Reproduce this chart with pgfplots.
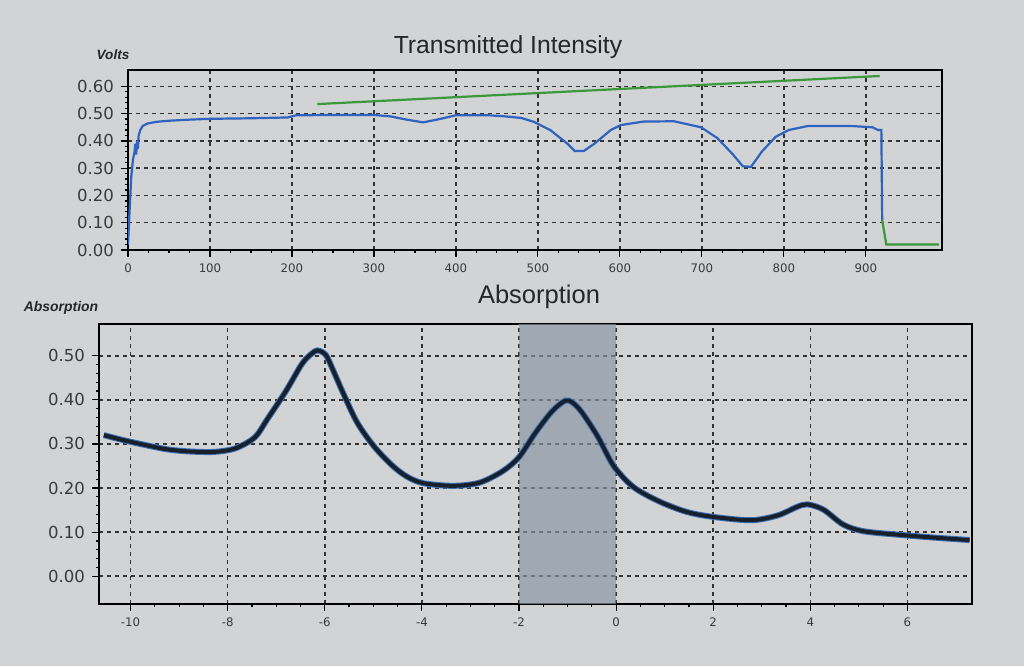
\documentclass[border=0pt]{standalone}
\usepackage{pgfplots}
\pgfplotsset{compat=1.18}
\usepackage{fontspec}
\setmainfont{Liberation Sans}
\newfontfamily\dejavu{DejaVu Sans}
\definecolor{bg}{HTML}{D1D3D5}
\definecolor{tblue}{HTML}{2E63C0}
\definecolor{tgreen}{HTML}{3A9A3A}
\definecolor{cblue}{HTML}{3B6FB6}
\definecolor{cdark}{HTML}{18202C}
\definecolor{shade}{HTML}{8A95A1}
\definecolor{lab}{HTML}{3A3A3A}
\pgfplotsset{
  scrstyle/.style={
    scale only axis,
    tick align=outside,
    xtick pos=left, ytick pos=left,
    major tick length=3.5bp, minor tick length=1.6bp,
    tick style={black, line width=0.6bp},
    axis line style={black, line width=1bp},
    grid=major,
    major grid style={black!80, line width=0.75bp, dash pattern=on 2.2bp off 1.8bp},
    /pgf/number format/assume math mode=true,
    yticklabel style={font=\dejavu\fontsize{8.3}{9}\selectfont, text=lab,
      /pgf/number format/.cd, fixed, fixed zerofill, precision=2},
    xticklabel style={font=\dejavu\fontsize{5.9}{7}\selectfont, text=lab},
    minor x tick num=3, minor y tick num=4,
  }
}
\begin{document}
\begin{tikzpicture}[x=1bp,y=1bp]
\fill[bg] (0,0) rectangle (512,333);
\useasboundingbox (0,0) rectangle (512,333);

% ---------- Transmitted Intensity ----------
\begin{axis}[scrstyle, at={(64bp,208bp)}, anchor=south west,
  width=407bp, height=90bp,
  xmin=0, xmax=993, ymin=0, ymax=0.66,
  xtick={0,100,200,300,400,500,600,700,800,900},
  ytick={0,0.1,0.2,0.3,0.4,0.5,0.6},
  xticklabel style={/pgf/number format/.cd, fixed, 1000 sep={}},
]
\addplot[tgreen, line width=1.1bp] coordinates {(231,0.535) (917,0.638)};
\addplot[tblue, line width=1.1bp] coordinates {
(0,0.02)(2,0.15)(4,0.27)(6,0.33)(8,0.36)(9,0.39)(10,0.35)(11,0.40)(12,0.37)(13,0.42)
(15,0.44)(18,0.455)(24,0.464)(35,0.47)(50,0.474)(75,0.478)(100,0.481)(150,0.483)
(195,0.486)(205,0.494)(250,0.495)(300,0.495)(320,0.49)(340,0.478)(360,0.468)(380,0.48)
(400,0.494)(440,0.494)(460,0.49)(480,0.484)(495,0.47)(515,0.44)(536,0.39)(545,0.363)
(556,0.363)(569,0.39)(589,0.44)(601,0.458)(629,0.471)(666,0.472)(699,0.45)(719,0.41)
(738,0.35)(750,0.307)(760,0.305)(773,0.36)(790,0.415)(806,0.44)(830,0.455)(880,0.455)
(908,0.45)(915,0.44)(919,0.44)(920,0.11)};
\addplot[tgreen, line width=1.1bp] coordinates {(920,0.11)(925,0.02)(989,0.02)};
\end{axis}

% ---------- Absorption ----------
\begin{axis}[scrstyle, at={(49.5bp,31bp)}, anchor=south west,
  width=436.5bp, height=140bp,
  xmin=-10.65, xmax=7.33, ymin=-0.063, ymax=0.572,
  xtick={-10,-8,-6,-4,-2,0,2,4,6},
  ytick={0,0.1,0.2,0.3,0.4,0.5},
]
\addplot[draw=none, fill=shade, fill opacity=0.68] coordinates
  {(-2,-0.063) (0,-0.063) (0,0.572) (-2,0.572)} -- cycle;
\addplot[cblue, line width=3bp, smooth, tension=0.5] coordinates {
(-10.55,0.32)(-10.2,0.31)(-9.8,0.30)(-9.26,0.288)(-8.8,0.283)(-8.27,0.282)(-7.84,0.29)
(-7.44,0.315)(-7.19,0.355)(-6.8,0.42)(-6.48,0.48)(-6.3,0.502)(-6.15,0.512)(-5.98,0.502)
(-5.84,0.47)(-5.6,0.41)(-5.33,0.348)(-4.99,0.295)(-4.62,0.252)(-4.31,0.226)(-3.97,0.211)
(-3.36,0.205)(-2.82,0.212)(-2.34,0.238)(-2.0,0.27)(-1.67,0.324)(-1.32,0.374)(-1.05,0.398)
(-0.9,0.394)(-0.7,0.371)(-0.38,0.317)(-0.05,0.25)(0.36,0.202)(0.9,0.169)(1.45,0.146)
(1.97,0.135)(2.78,0.127)(3.33,0.138)(3.72,0.157)(3.94,0.163)(4.27,0.151)(4.68,0.117)
(5.1,0.102)(5.83,0.094)(6.5,0.088)(7.28,0.082)};
\addplot[cdark, line width=2bp, smooth, tension=0.5] coordinates {
(-10.55,0.32)(-10.2,0.31)(-9.8,0.30)(-9.26,0.288)(-8.8,0.283)(-8.27,0.282)(-7.84,0.29)
(-7.44,0.315)(-7.19,0.355)(-6.8,0.42)(-6.48,0.48)(-6.3,0.502)(-6.15,0.512)(-5.98,0.502)
(-5.84,0.47)(-5.6,0.41)(-5.33,0.348)(-4.99,0.295)(-4.62,0.252)(-4.31,0.226)(-3.97,0.211)
(-3.36,0.205)(-2.82,0.212)(-2.34,0.238)(-2.0,0.27)(-1.67,0.324)(-1.32,0.374)(-1.05,0.398)
(-0.9,0.394)(-0.7,0.371)(-0.38,0.317)(-0.05,0.25)(0.36,0.202)(0.9,0.169)(1.45,0.146)
(1.97,0.135)(2.78,0.127)(3.33,0.138)(3.72,0.157)(3.94,0.163)(4.27,0.151)(4.68,0.117)
(5.1,0.102)(5.83,0.094)(6.5,0.088)(7.28,0.082)};
\end{axis}

\node[font=\fontsize{12.4}{13}\selectfont, text=black!85] at (254,309.5) {Transmitted Intensity};
\node[font=\fontsize{12.8}{13}\selectfont, text=black!85] at (269.5,184.5) {Absorption};
\node[font=\bfseries\itshape\fontsize{6.8}{7}\selectfont, text=black!85] at (56.5,305.5) {Volts};
\node[font=\bfseries\itshape\fontsize{7}{7}\selectfont, text=black!85] at (30.5,179) {Absorption};
\end{tikzpicture}
\end{document}
